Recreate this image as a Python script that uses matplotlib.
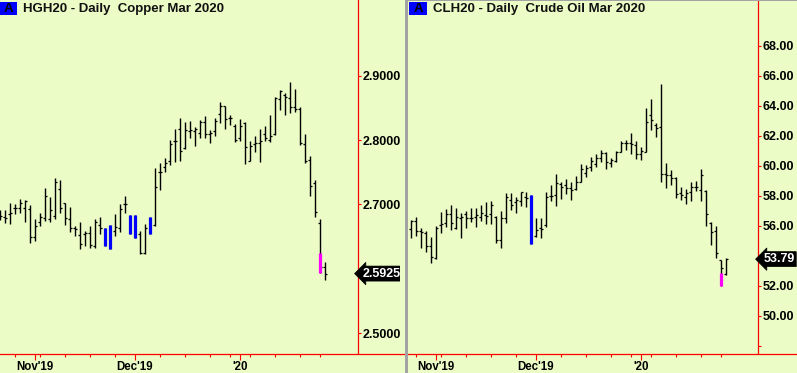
import matplotlib
matplotlib.use("Agg")
import matplotlib.pyplot as plt
from matplotlib.patches import Rectangle
from matplotlib.transforms import blended_transform_factory

plt.rcParams['font.family'] = ['Liberation Sans', 'DejaVu Sans']
plt.rcParams['font.weight'] = 'bold'

BG = '#ECFCC6'

# ---------------- data ----------------
# bar positions are trading-day indices (index 6 = 1 Nov 2019, 26 = 2 Dec 2019, 47 = 2 Jan 2020)
copper_x = list(range(-1, 65))
copper_open = [2.688, 2.681, 2.685, 2.694, 2.695, 2.695, 2.693, 2.650, 2.673, 2.679, 2.678,
               2.682, 2.724, 2.703, 2.677, 2.664, 2.652, 2.654, 2.655, 2.636, 2.668,
               2.662, 2.640, 2.659, 2.664, 2.700, 2.681, 2.682, 2.654, 2.624, 2.656,
               2.668, 2.750, 2.758, 2.768, 2.799, 2.817, 2.788, 2.814, 2.814, 2.812,
               2.828, 2.809, 2.814, 2.841, 2.853, 2.835, 2.822, 2.804, 2.827, 2.768,
               2.794, 2.796, 2.809, 2.800, 2.809, 2.864, 2.871, 2.866, 2.851, 2.848,
               2.794, 2.769, 2.734, 2.671, 2.603]
copper_high = [2.692, 2.691, 2.703, 2.701, 2.708, 2.707, 2.699, 2.677, 2.687, 2.726, 2.712,
               2.742, 2.738, 2.703, 2.696, 2.667, 2.673, 2.659, 2.666, 2.678, 2.681,
               2.664, 2.668, 2.685, 2.701, 2.713, 2.683, 2.684, 2.659, 2.670, 2.681,
               2.757, 2.765, 2.773, 2.801, 2.818, 2.834, 2.828, 2.830, 2.820, 2.831,
               2.837, 2.816, 2.834, 2.860, 2.854, 2.839, 2.826, 2.833, 2.829, 2.799,
               2.807, 2.817, 2.822, 2.840, 2.868, 2.878, 2.874, 2.890, 2.879, 2.851,
               2.809, 2.776, 2.738, 2.677, 2.611]
copper_low = [2.676, 2.671, 2.669, 2.685, 2.686, 2.673, 2.640, 2.643, 2.666, 2.674, 2.673,
              2.677, 2.687, 2.668, 2.657, 2.651, 2.630, 2.636, 2.633, 2.633, 2.654,
              2.635, 2.630, 2.651, 2.657, 2.686, 2.654, 2.648, 2.623, 2.623, 2.654,
              2.666, 2.723, 2.750, 2.761, 2.766, 2.768, 2.786, 2.804, 2.791, 2.803,
              2.804, 2.796, 2.807, 2.827, 2.817, 2.823, 2.798, 2.799, 2.763, 2.767,
              2.782, 2.766, 2.799, 2.798, 2.808, 2.847, 2.839, 2.843, 2.844, 2.792,
              2.765, 2.713, 2.681, 2.593, 2.582]
copper_close = [2.682, 2.679, 2.687, 2.695, 2.703, 2.706, 2.650, 2.666, 2.680, 2.714, 2.692,
                2.735, 2.695, 2.679, 2.664, 2.662, 2.638, 2.655, 2.637, 2.672, 2.664,
                2.638, 2.664, 2.665, 2.693, 2.700, 2.657, 2.650, 2.625, 2.663, 2.679,
                2.727, 2.750, 2.765, 2.794, 2.799, 2.783, 2.816, 2.816, 2.817, 2.828,
                2.809, 2.812, 2.830, 2.853, 2.833, 2.834, 2.800, 2.822, 2.790, 2.791,
                2.796, 2.799, 2.804, 2.807, 2.865, 2.877, 2.868, 2.852, 2.848, 2.795,
                2.768, 2.729, 2.688, 2.602, 2.5925]
# highlighted (painted) bars: position, colour, painted range low/high
copper_paint_x = [20, 21, 25, 26, 29, 63]
copper_paint_color = ['#0000FF', '#0000FF', '#0000FF', '#0000FF', '#0000FF', '#FF00FF']
copper_paint_lo = [2.635, 2.630, 2.654, 2.648, 2.654, 2.593]
copper_paint_hi = [2.664, 2.668, 2.683, 2.684, 2.681, 2.624]

crude_x = list(range(1, 65))
crude_open = [55.80, 56.33, 55.69, 55.51, 54.67, 53.84, 56.07, 56.18, 56.78, 55.89,
              56.56, 56.78, 56.51, 56.62, 56.62, 56.73, 56.78, 56.62, 55.07, 56.51,
              57.73, 57.62, 57.67, 57.96, 58.00, 55.36, 55.84, 56.07, 58.02, 58.07,
              58.78, 58.73, 58.51, 58.47, 58.91, 59.51, 59.96, 60.11, 60.51, 60.84,
              60.18, 60.33, 60.96, 61.51, 61.51, 61.40, 60.80, 60.96, 63.40, 62.73,
              62.62, 59.44, 59.40, 59.18, 58.18, 57.96, 58.29, 58.62, 58.40, 58.33,
              56.18, 55.67, 53.73, 52.80]
crude_high = [56.40, 56.62, 55.89, 55.67, 55.29, 56.02, 56.96, 57.11, 57.40, 57.18,
              56.89, 57.00, 57.18, 57.18, 57.40, 57.62, 57.67, 56.67, 57.00, 58.18,
              58.18, 57.96, 58.29, 58.29, 58.07, 56.56, 56.56, 58.29, 58.73, 59.47,
              58.91, 59.13, 58.96, 59.33, 60.11, 60.07, 60.62, 60.80, 61.07, 60.91,
              60.56, 61.00, 61.67, 61.73, 62.18, 61.67, 61.29, 63.84, 64.44, 62.89,
              65.44, 60.18, 59.73, 59.29, 58.62, 58.44, 58.91, 59.00, 59.78, 58.40,
              56.29, 56.00, 53.73, 53.84]
crude_low = [55.22, 55.36, 54.56, 54.29, 53.56, 53.78, 55.56, 55.91, 55.73, 55.80,
             55.22, 55.89, 56.29, 55.91, 56.36, 56.11, 56.11, 54.84, 54.51, 56.18,
             57.07, 56.84, 57.36, 57.29, 54.78, 55.29, 55.22, 55.96, 57.67, 57.36,
             57.80, 58.11, 57.76, 58.40, 58.91, 59.29, 59.67, 59.96, 60.29, 59.80,
             59.96, 60.29, 60.96, 61.07, 60.78, 60.47, 60.40, 60.96, 62.40, 61.96,
             58.96, 58.56, 58.73, 57.89, 57.73, 57.44, 57.67, 58.33, 57.69, 56.02,
             54.73, 53.84, 52.02, 52.73]
crude_close = [56.33, 55.69, 55.62, 54.69, 53.96, 55.84, 56.11, 56.80, 56.22, 56.58,
               56.58, 56.51, 56.51, 56.73, 56.84, 56.69, 57.40, 55.07, 56.56, 57.96,
               57.40, 57.73, 58.24, 57.89, 55.20, 55.73, 55.80, 57.96, 58.02, 58.84,
               58.62, 58.51, 58.40, 58.91, 59.78, 59.84, 60.33, 60.56, 60.84, 60.24,
               60.40, 60.91, 61.51, 61.51, 61.44, 60.80, 61.00, 62.91, 63.07, 62.56,
               59.44, 59.40, 59.18, 58.13, 58.07, 58.18, 58.62, 58.62, 59.40, 56.80,
               55.62, 54.18, 53.22, 53.79]
crude_paint_x = [25, 63]
crude_paint_color = ['#0000FF', '#FF00FF']
crude_paint_lo = [54.78, 52.02]
crude_paint_hi = [58.07, 52.84]

# axis ticks / labels (labels hidden behind the last-price flags are left blank)
month_pos = [6, 26, 47]
month_labels = ["Nov'19", "Dec'19", "'20"]
week_pos = [2, 7, 12, 17, 22, 31, 36, 41, 45, 49, 54, 59, 63]
copper_yticks = [2.5, 2.6, 2.7, 2.8, 2.9]
copper_ylabels = ['2.5000', '', '2.7000', '2.8000', '2.9000']
crude_yticks = [48, 50, 52, 54, 56, 58, 60, 62, 64, 66, 68]
crude_ylabels = ['', '50.00', '52.00', '', '56.00', '58.00', '60.00',
                 '62.00', '64.00', '66.00', '68.00']
titles = ["HGH20 - Daily  Copper Mar 2020", "CLH20 - Daily  Crude Oil Mar 2020"]
last_labels = ['2.5925', '53.79']

# ---------------- figure ----------------
W, H = 797, 373
fig = plt.figure(figsize=(W / 100, H / 100), dpi=100, facecolor=BG)


def px_axes(x0, y0, x1, y1):
    return fig.add_axes([x0 / W, 1 - y1 / H, (x1 - x0) / W, (y1 - y0) / H])


def style_axes(ax, spine_frac, xlim, ylim, yt, yl):
    ax.set_facecolor(BG)
    ax.set_xlim(*xlim)
    ax.set_ylim(*ylim)
    for s in ['top', 'left']:
        ax.spines[s].set_visible(False)
    for s in ['right', 'bottom']:
        ax.spines[s].set_color('#FF0000')
        ax.spines[s].set_linewidth(0.9)
    ax.spines['right'].set_position(('axes', spine_frac))
    ax.yaxis.tick_right()
    ax.set_yticks(yt)
    ax.set_yticklabels(yl)
    ax.tick_params(axis='y', which='major', direction='out', length=2.4, width=0.8,
                   color='#FF0000', labelcolor='black', labelsize=9, pad=1)
    ax.set_xticks(month_pos)
    ax.set_xticklabels(month_labels)
    ax.set_xticks(week_pos, minor=True)
    ax.tick_params(axis='x', which='major', direction='out', length=4.4, width=0.8,
                   color='#FF0000', labelcolor='black', labelsize=8.3, pad=1.2)
    ax.tick_params(axis='x', which='minor', direction='out', length=2.2, width=0.8,
                   color='#FF0000')
    ax.tick_params(axis='y', which='minor', length=0)


def draw_bars(ax, xs, o, h, l, c, px, pcol, plo, phi):
    full = set()
    for x, lo, hi in zip(px, plo, phi):
        k = xs.index(x)
        if abs(lo - l[k]) < 1e-9 and abs(hi - h[k]) < 1e-9:
            full.add(x)
    ax.vlines(xs, l, h, colors='black', linewidth=1.0, zorder=3)
    ox = [x for x in xs if x not in full]
    oo = [v for x, v in zip(xs, o) if x not in full]
    cc = [v for x, v in zip(xs, c) if x not in full]
    ax.hlines(oo, [x - 0.42 for x in ox], ox, colors='black', linewidth=0.9, zorder=3)
    ax.hlines(cc, ox, [x + 0.42 for x in ox], colors='black', linewidth=0.9, zorder=3)
    ax.vlines(px, plo, phi, colors=pcol, linewidth=2.3, zorder=4)


# left panel: copper
axL = px_axes(0, 0, 400, 353.5)
style_axes(axL, 357.7 / 400, (-0.934, 79.07),
           (2.9 - 277.5 / 642.5, 2.9 + 76 / 642.5), copper_yticks, copper_ylabels)
draw_bars(axL, copper_x, copper_open, copper_high, copper_low, copper_close,
          copper_paint_x, copper_paint_color, copper_paint_lo, copper_paint_hi)

# right panel: crude oil
axR = px_axes(400, 0, 797, 353.5)
style_axes(axR, (758.2 - 400) / 397, (-1.14, 78.26),
           (66 - 277.5 / 15, 66 + 76 / 15), crude_yticks, crude_ylabels)
draw_bars(axR, crude_x, crude_open, crude_high, crude_low, crude_close,
          crude_paint_x, crude_paint_color, crude_paint_lo, crude_paint_hi)

# last-price flags
for ax, frac, val, txt in [(axL, 362.5 / 400, copper_close[-1], last_labels[0]),
                           (axR, (763.5 - 400) / 397, crude_close[-1], last_labels[1])]:
    tr = blended_transform_factory(ax.transAxes, ax.transData)
    ax.text(frac, val, txt, transform=tr, ha='left', va='center', color='white',
            fontsize=9, fontweight='bold', zorder=20, clip_on=False,
            bbox=dict(boxstyle='larrow,pad=0.12', fc='black', ec='black', lw=0.5))

# overlay for panel decorations
ov = fig.add_axes([0, 0, 1, 1], facecolor='none')
ov.set_xlim(0, W)
ov.set_ylim(H, 0)
ov.axis('off')
ov.add_patch(Rectangle((405, 0), 3, H, fc='#A3A3A3', ec='none'))
ov.add_patch(Rectangle((405, 0), W - 405, 1, fc='#A3A3A3', ec='none'))
for bx, tx, title in [(0, 23, titles[0]), (409.5, 433.5, titles[1])]:
    ov.add_patch(Rectangle((bx, 1.7), 17.5, 13.5, fc='#0000FF', ec='none'))
    ov.text(bx + 8.8, 8.8, 'A', ha='center', va='center', fontsize=9.5,
            fontweight='bold', color='black')
    ov.text(tx, 8.8, title, ha='left', va='center', fontsize=9.5,
            fontweight='bold', color='#111111')

fig.savefig('out.png', dpi=100, facecolor=BG)
